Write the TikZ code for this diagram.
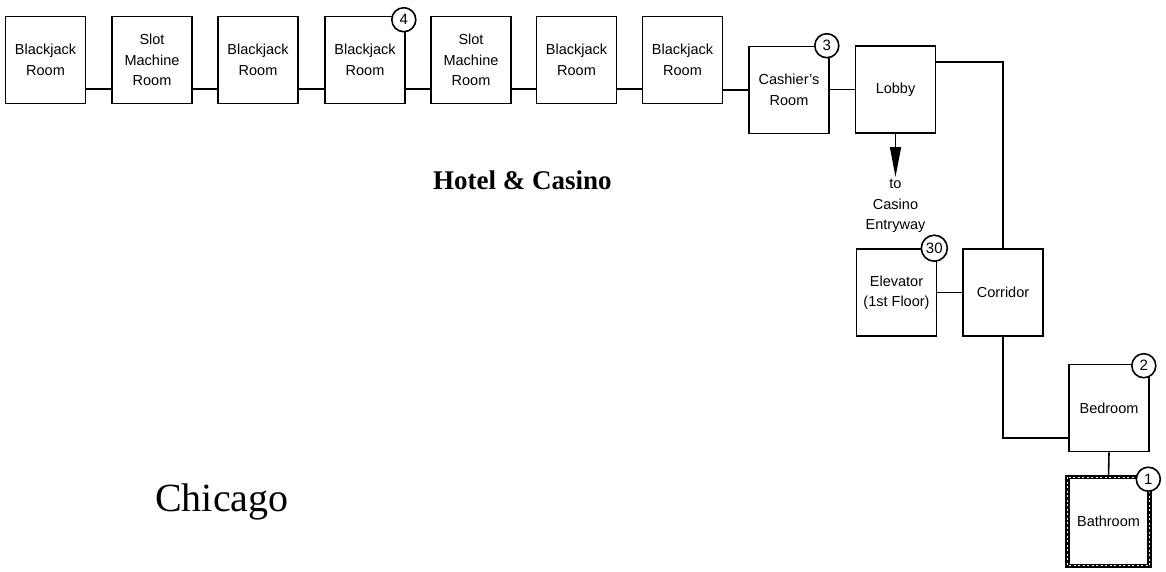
\documentclass[tikz,border=0pt]{standalone}
\usepackage{fontspec}
\setmainfont{Liberation Serif}
\setsansfont{Liberation Sans}
\usetikzlibrary{arrows.meta}
\begin{document}
\begin{tikzpicture}[x=1pt,y=-1pt,
  room/.style={draw, line width=1.6pt, minimum width=80pt, minimum height=87pt, inner sep=0pt,
    align=center, font=\sffamily\fontsize{14.5}{20.5}\selectfont},
  badge/.style={draw, circle, fill=white, line width=1.6pt, minimum size=24pt, inner sep=0pt,
    font=\sffamily\fontsize{15}{15}\selectfont},
  link/.style={line width=1.6pt}]
\useasboundingbox (0,0) rectangle (1166,571);
\fill[white] (0,0) rectangle (1166,571);
% top row
\node[room] (b1) at (45.5,60) {Blackjack\\Room};
\node[room] (b2) at (152,60) {Slot\\Machine\\Room};
\node[room] (b3) at (258,60) {Blackjack\\Room};
\node[room] (b4) at (365,60) {Blackjack\\Room};
\node[room] (b5) at (471,60) {Slot\\Machine\\Room};
\node[room] (b6) at (576.5,60) {Blackjack\\Room};
\node[room] (b7) at (682.5,60) {Blackjack\\Room};
\node[room] (cash) at (789,90) {Cashier's\\Room};
\node[room] (lobby) at (895.5,89.5) {Lobby};
\node[room] (elev) at (896.5,292.5) {Elevator\\(1st Floor)};
\node[room] (corr) at (1003,292.5) {Corridor};
\node[room] (bed) at (1109,408) {Bedroom};
\node[room, draw=none] (bath) at (1108.5,521.5) {Bathroom};
% bathroom textured border
\draw[line width=4.5pt] (bath.north west) rectangle (bath.south east);
\draw[white, line width=1.3pt, dash pattern=on 2pt off 2.5pt] (bath.north west) rectangle (bath.south east);
% connectors
\coordinate (row) at (0,89);
\coordinate (lobtop) at (0,62);
\coordinate (bedlow) at (0,438);
\draw[link] (b1.east |- row) -- (b2.west |- row);
\draw[link] (b2.east |- row) -- (b3.west |- row);
\draw[link] (b3.east |- row) -- (b4.west |- row);
\draw[link] (b4.east |- row) -- (b5.west |- row);
\draw[link] (b5.east |- row) -- (b6.west |- row);
\draw[link] (b6.east |- row) -- (b7.west |- row);
\draw[link] (b7.east |- cash.west) -- (cash.west);
\draw[link] (cash.east |- lobby.west) -- (lobby.west);
\draw[link] (lobby.east |- lobtop) -| (corr.north);
\draw[link] (elev) -- (corr);
\draw[link] (corr.south) |- (bed.west |- bedlow);
\draw[link] (bed.south) -- (bath.north);
% arrow to casino entryway
\coordinate (arrend) at (895.5,177);
\draw[link, -{Triangle[length=30pt,width=11pt]}] (lobby.south) -- (arrend);
\node[align=center, font=\sffamily\fontsize{14.5}{20.5}\selectfont, anchor=north] (entry) at (895.5,176) {to\\Casino\\Entryway};
% badges
\node[badge] (n4) at ([shift={(-2,4)}]b4.north east) {4};
\node[badge] (n3) at ([shift={(-3,0)}]cash.north east) {3};
\node[badge, minimum size=26pt] (n30) at ([shift={(-3,0)}]elev.north east) {30};
\node[badge] (n2) at ([shift={(-6,2)}]bed.north east) {2};
\node[badge] (n1) at ([shift={(-1,2)}]bath.north east) {1};
% titles
\node[anchor=base west, inner sep=0pt, font=\bfseries\fontsize{27}{27}\selectfont] (hotel) at (433,189) {Hotel \& Casino};
\node[anchor=base west, inner sep=0pt, font=\fontsize{40}{40}\selectfont] (chicago) at (155,511) {Chicago};
\end{tikzpicture}
\end{document}
